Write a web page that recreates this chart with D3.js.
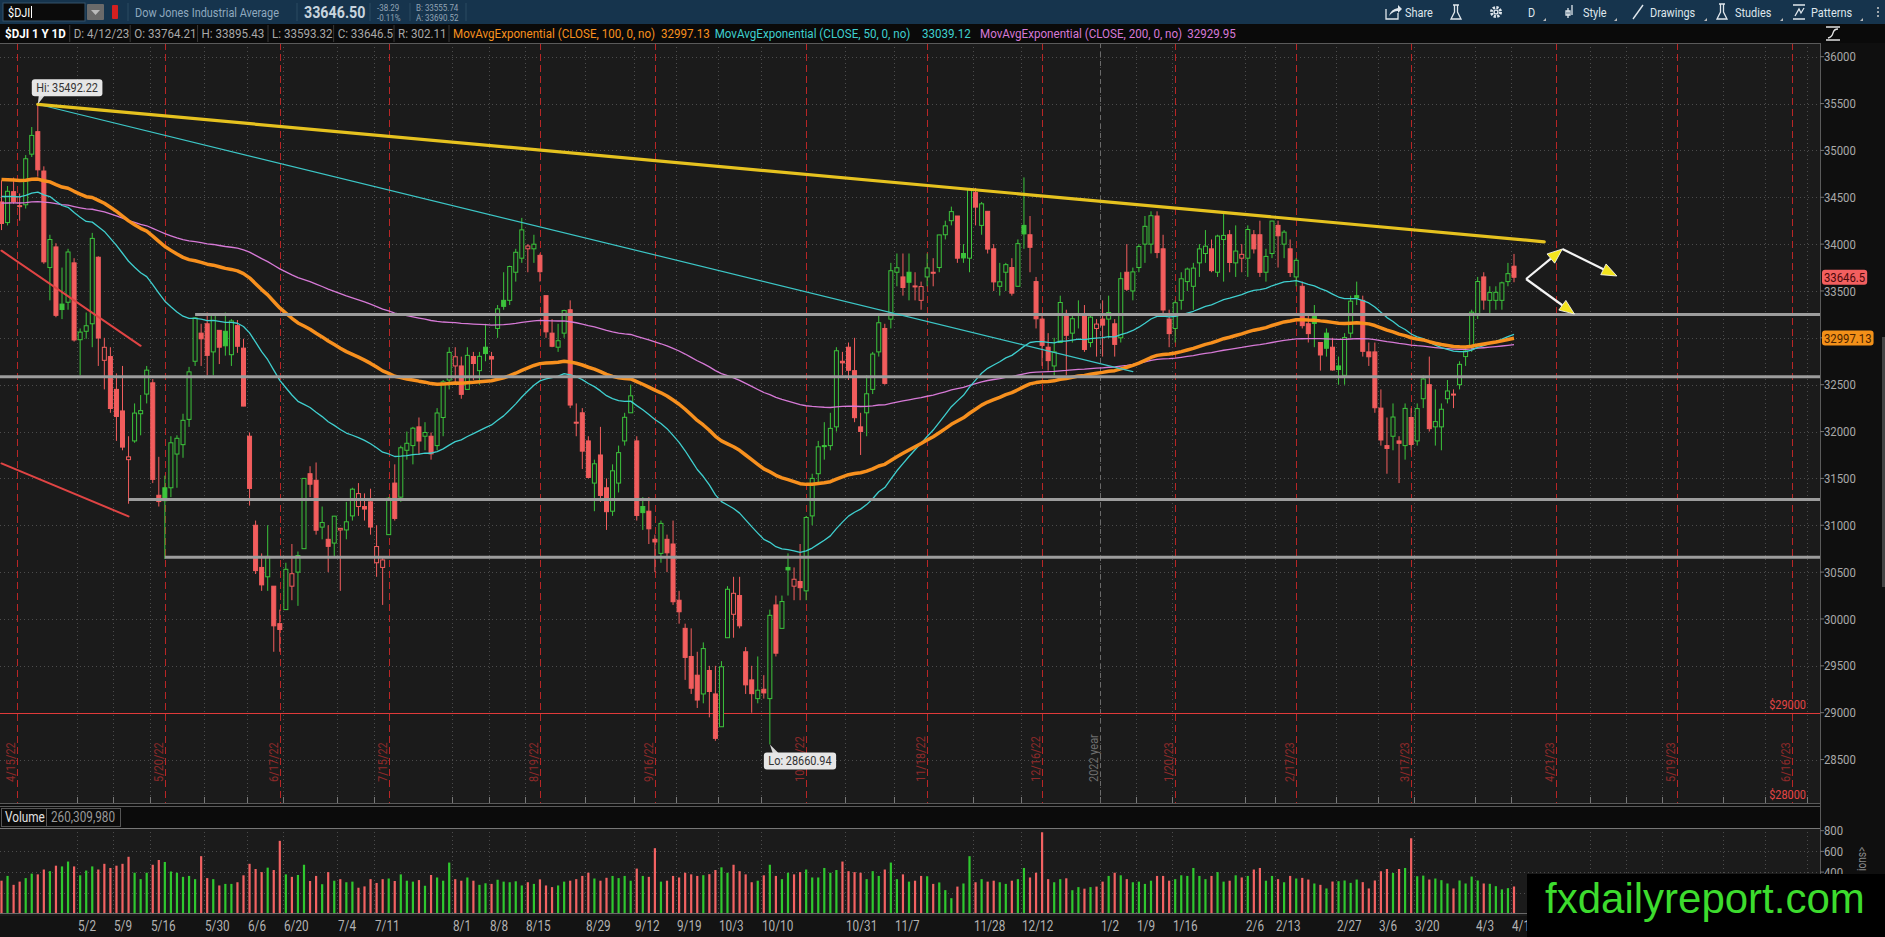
<!DOCTYPE html>
<html lang="en">
<head>
<meta charset="UTF-8" />
<title>$DJI 1 Y 1D</title>
<script src="https://d3js.org/d3.v7.min.js"></script>
<style>
  html, body { margin: 0; padding: 0; background: #000; overflow: hidden; }
  svg { display: block; font-family: Roboto, "Liberation Sans", sans-serif; }
</style>
</head>
<body>
<svg id="chart" width="1885" height="937"></svg>
<script>
// ---- calendar ----
const firstDay = "2022-04-12"
const lastDay = "2023-06-30"
const holidays = ["2022-04-15", "2022-05-30", "2022-06-20", "2022-07-04", "2022-09-05", "2022-11-24",
  "2022-12-26", "2023-01-02", "2023-01-16", "2023-02-20", "2023-04-07", "2023-05-29", "2023-06-19"]

// ---- daily candles, 4/12/22 .. 4/12/23 ----
const opens = [
  34450, 34230, 34560, 34400, 34420, 34960, 35200, 34780, 33750, 33970, 33360, 33380, 33800,
  32980, 33070, 33150, 33860, 32760, 32800, 32450, 32220, 31700, 31900, 32190, 32400, 32520, 31320, 31400, 31400, 31760, 31860, 32130, 32750,
  33050, 33150, 32850, 33080, 33070, 32820, 33130, 32890, 31950, 31000, 30550, 30450, 30350, 29950, 30100, 30350, 30500, 30750, 31550, 31480, 30980, 30850,
  30810, 30950, 30950, 31100, 31200, 31200, 31250, 30600, 30550, 30900, 31450, 31300, 31800, 31850, 32050, 31950, 31950, 31850, 32150, 32550,
  32700, 32700, 32450, 32800, 32650, 32900, 32800, 33100, 33400, 33400, 33700, 33850, 33950, 33950, 33880, 33450, 33050, 32900, 33050, 33300, 32100, 32200, 31900,
  31450, 31750, 31400, 31150, 31450, 31900, 32200, 31900, 31200, 31150, 30850, 30700, 30850, 30800, 30200, 29900, 29600, 29400, 29200, 29450, 29200,
  28850, 29800, 30050, 30250, 29650, 29350, 29150, 29250, 29150, 30150, 29900, 30550, 30350, 30400, 30300, 31100, 31550, 31850, 31850, 32050,
  32750, 32900, 32650, 32050, 32200, 32450, 32850, 33100, 33200, 33700, 33650, 33700, 33550, 33400, 33650, 33700, 33750, 34100, 34250, 34300, 33900, 33850,
  34550, 34200, 34350, 33950, 33550, 33700, 33750, 33550, 34200, 34100, 33600, 33200, 32900, 32700, 32950, 33250, 33050, 33250, 33250, 32950, 33100,
  33200, 33200, 33150, 33000, 33700, 33500, 33750, 34000, 34000, 34300, 33950, 33200, 33100, 33400, 33600, 33550, 33800, 33900, 33950, 33700,
  34050, 34100, 33800, 33850, 33850, 34100, 34100, 33700, 33900, 34200, 34000, 33950, 33650, 33550, 33150, 33250, 32950, 33050, 32900,
  32700, 32600, 33050, 33450, 33400, 32850, 32850, 32250, 31850, 31950, 31900, 31850, 32150, 31900, 32350, 32500, 32050, 32050, 32350, 32400, 32500, 32800, 32900,
  33250, 33650, 33400, 33400, 33400, 33600, 33764.21
]
const highs = [
  34680, 34620, 34710, 34540, 34950, 35250, 35492.22, 34830, 34100, 34010, 33750, 33950, 33850,
  33100, 33270, 34120, 33870, 33000, 32900, 32620, 32700, 31950, 32300, 32390, 32700, 32560, 31730, 31530, 31950, 31960, 32190, 32690, 33220,
  33150, 33270, 33250, 33080, 33270, 33200, 33190, 32990, 31990, 31050, 30700, 31000, 30350, 30100, 30600, 30800, 30720, 31500, 31630, 31670, 31200, 31000,
  31100, 30970, 31250, 31400, 31450, 31340, 31390, 31000, 30650, 31300, 31650, 31850, 32000, 32050, 32150, 32100, 31990, 32250, 32550, 32900,
  32900, 32800, 32900, 32850, 32850, 33150, 32850, 33350, 33700, 33770, 33950, 34280, 34000, 34100, 33900, 33450, 33200, 33150, 33300, 33400, 32300, 32250, 31950,
  31700, 32050, 31500, 31650, 31850, 32200, 32500, 31950, 31300, 31300, 30900, 31050, 30900, 31050, 30300, 29950, 29900, 29650, 29750, 29500, 29500,
  29550, 30350, 30450, 30450, 29700, 29500, 29600, 29400, 30100, 30250, 30250, 30700, 30550, 30800, 31100, 31550, 31900, 32100, 32200, 32900,
  32850, 32950, 33000, 32200, 32600, 32850, 33250, 33150, 33800, 33900, 33900, 33900, 33700, 33600, 33900, 33850, 34100, 34250, 34400, 34300, 34000, 34600,
  34600, 34450, 34350, 34000, 33800, 33800, 33850, 34050, 34712, 34300, 33650, 33250, 33050, 33000, 33450, 33300, 33250, 33400, 33350, 33250, 33200,
  33400, 33450, 33200, 33700, 34000, 33750, 34000, 34300, 34350, 34350, 34100, 33300, 33400, 33700, 33750, 33800, 34000, 34150, 34050, 34100,
  34350, 34150, 34200, 34000, 34200, 34150, 34250, 33950, 34250, 34250, 34150, 34050, 33850, 33600, 33250, 33350, 32950, 33100, 33000,
  32800, 33050, 33450, 33600, 33450, 32950, 32950, 32450, 32150, 32300, 31950, 32300, 32250, 32300, 32600, 32800, 32450, 32300, 32550, 32450, 32750, 32900, 33300,
  33650, 33700, 33550, 33550, 33600, 33800, 33895.43
]
const lows = [
  34150, 34200, 34430, 34250, 34380, 34930, 34720, 33790, 33400, 33220, 33200, 33300, 32960,
  32600, 32990, 32900, 32700, 32450, 32200, 31900, 31800, 31230, 31880, 31960, 32300, 31450, 31200, 30640, 31300, 31400, 31720, 32050, 32700,
  32700, 32600, 32600, 32720, 32810, 32700, 32840, 32270, 31210, 30480, 30300, 30300, 29650, 29650, 30100, 30200, 30140, 30750, 31300, 30900, 30850, 30500,
  30650, 30300, 30850, 31050, 31100, 31050, 30900, 30450, 30150, 30900, 31050, 31250, 31700, 31650, 31750, 31800, 31700, 31800, 31950, 32450,
  32500, 32350, 32450, 32550, 32500, 32750, 32600, 33000, 33300, 33350, 33600, 33800, 33700, 33800, 33600, 33000, 32900, 32850, 33000, 32250, 31950, 31600, 31500,
  31150, 31250, 30950, 31100, 31350, 31850, 32200, 31050, 30950, 30800, 30500, 30600, 30500, 30150, 29950, 29350, 29200, 29050, 29100, 28950, 28700,
  28850, 29800, 29800, 29900, 29200, 29000, 29100, 29150, 28660.94, 29600, 29900, 30250, 30200, 30200, 30200, 31000, 31450, 31700, 31800, 32000,
  32600, 32550, 32100, 31750, 31950, 32400, 32800, 32500, 33100, 33550, 33450, 33400, 33400, 33300, 33550, 33550, 33700, 34050, 34200, 33800, 33800, 33700,
  34200, 34100, 33900, 33500, 33450, 33500, 33450, 33550, 33950, 33700, 33100, 32700, 32650, 32600, 32950, 32600, 32950, 33100, 32850, 32900, 32800,
  32800, 33000, 32800, 32950, 33500, 33400, 33700, 33800, 33900, 33850, 33250, 32900, 32950, 33300, 33500, 33300, 33650, 33800, 33700, 33650,
  33600, 33700, 33650, 33700, 33650, 33900, 33650, 33600, 33850, 33750, 33850, 33650, 33550, 33100, 32950, 32900, 32650, 32800, 32650,
  32500, 32500, 33000, 33350, 32800, 32700, 32200, 31850, 31550, 31800, 31450, 31700, 31800, 31850, 32250, 32000, 31850, 31800, 32300, 32250, 32450, 32700, 32850,
  33200, 33300, 33250, 33300, 33300, 33550, 33593.32
]
const closes = [
  34220, 34564, 34451, 34411, 34911, 35160, 34793, 33811, 34049, 33240, 33302, 33916, 32977,
  33061, 33129, 34061, 32998, 32899, 32246, 32161, 31834, 31730, 32197, 32223, 32655, 31490, 31253, 31262, 31880, 31928, 32120, 32637, 33213,
  32990, 32813, 33248, 32900, 32915, 33180, 32910, 32272, 31393, 30516, 30364, 30668, 29927, 29888, 30530, 30483, 30677, 31500, 31438, 30947, 31029, 30775,
  31097, 30967, 31037, 31385, 31338, 31173, 30981, 30773, 30630, 31288, 31073, 31827, 31875, 32036, 31899, 31990, 31762, 32198, 32530, 32845,
  32798, 32397, 32813, 32726, 32803, 32832, 32774, 33309, 33336, 33761, 33913, 34152, 33980, 33999, 33706, 33064, 32910, 32969, 33291, 32283, 32099, 31791, 31510,
  31656, 31318, 31145, 31581, 31775, 32152, 32381, 31105, 31135, 30962, 30822, 31020, 30706, 30184, 30077, 29590, 29261, 29135, 29684, 29226, 28726,
  29490, 30317, 30274, 29927, 29297, 29203, 29240, 29211, 30039, 29635, 30186, 30524, 30424, 30334, 31083, 31500, 31837, 31839, 32034, 32862,
  32733, 32654, 32148, 32001, 32403, 32827, 33161, 32514, 33716, 33748, 33537, 33593, 33554, 33547, 33746, 33700, 34098, 34195, 34347, 33850, 33853, 34590,
  34395, 34430, 33947, 33597, 33598, 33781, 33477, 34005, 34109, 33966, 33203, 32920, 32757, 32850, 33377, 33027, 33204, 33241, 32876, 33221, 33147,
  33136, 33270, 32930, 33631, 33518, 33704, 33974, 34190, 34303, 33910, 33297, 33045, 33375, 33630, 33734, 33744, 33949, 33978, 33717, 34086,
  34093, 33804, 33926, 33891, 34156, 33949, 33699, 33869, 34246, 34089, 34128, 33697, 33827, 33130, 33045, 33154, 32817, 32889, 32657,
  32662, 33004, 33391, 33431, 32856, 32798, 32254, 31910, 31820, 32155, 31875, 32247, 31862, 32245, 32561, 32031, 32106, 32238, 32433, 32394, 32717, 32860, 33274,
  33601, 33403, 33483, 33486, 33587, 33685, 33646.5
]
// volume, millions
const volumes = [
  317, 363, 277, 308, 342, 385, 378, 425, 409, 462, 455, 502, 455,
  369, 415, 455, 425, 480, 440, 462, 480, 548, 394, 332, 394, 471, 517, 498, 406, 394, 354, 363, 332,
  554, 342, 332, 271, 286, 286, 302, 369, 480, 430, 400, 443, 420, 702, 378, 354, 372, 471, 314, 363, 283, 400,
  317, 332, 302, 308, 249, 262, 332, 295, 332, 338, 314, 378, 317, 308, 323, 268, 372, 348, 317, 492,
  332, 317, 348, 317, 277, 292, 286, 326, 308, 302, 311, 271, 302, 286, 330, 271, 255, 271, 308, 317, 332, 363, 394,
  338, 317, 345, 363, 342, 363, 317, 434, 363, 354, 631, 308, 317, 363, 348, 394, 378, 363, 370, 380, 420,
  446, 394, 471, 409, 378, 302, 317, 369, 471, 363, 332, 394, 378, 400, 425, 348, 348, 440, 394, 420,
  502, 409, 400, 394, 332, 409, 363, 425, 492, 332, 378, 308, 317, 363, 360, 286, 300, 226, 148, 260, 290, 554,
  302, 332, 308, 317, 302, 286, 317, 332, 440, 348, 394, 785, 332, 302, 332, 340, 225, 255, 240, 255, 260,
  308, 363, 394, 369, 332, 302, 308, 286, 317, 363, 363, 317, 332, 369, 363, 440, 363, 332, 363, 400,
  308, 317, 369, 348, 363, 425, 440, 317, 363, 332, 302, 363, 338, 344, 328, 290, 277, 242, 309,
  312, 319, 296, 328, 303, 242, 319, 408, 430, 392, 430, 440, 727, 360, 366, 328, 338, 322, 290, 242, 319, 290, 357,
  319, 290, 287, 264, 233, 245, 261
]

// ---- studies ----
const emaPeriods = [100, 50, 200]
const emaSeeds = [34700, 34520, 34440]
const emaColors = ["#f7901e", "#3fcfcf", "#d679d6"]
const emaWidths = [3.5, 1.3, 1.3]
const emaLastText = ["32997.13", "33039.12", "32929.95"]

// ---- axes ----
const priceTicks = d3.range(28500, 36001, 500)
const volumeTicks = [800, 600, 400]
const tickLabels = ["5/2", "5/9", "5/16", "5/30", "6/6", "6/20", "7/4", "7/11", "8/1", "8/8", "8/15", "8/29", "9/12", "9/19",
  "10/3", "10/10", "10/31", "11/7", "11/28", "12/12", "1/2", "1/9", "1/16", "2/6", "2/13", "2/27", "3/6", "3/20", "4/3", "4/10"]
// bar on which the platform put each weekly mark (mark sits at the bar's left edge)
const tickAtDates = ["2022-05-02", "2022-05-10", "2022-05-18", "2022-06-01", "2022-06-10", "2022-06-21", "2022-07-05", "2022-07-13",
  "2022-08-01", "2022-08-09", "2022-08-17", "2022-08-31", "2022-09-13", "2022-09-22", "2022-10-03", "2022-10-12", "2022-11-01",
  "2022-11-11", "2022-12-01", "2022-12-13", "2023-01-03", "2023-01-11", "2023-01-20", "2023-02-07", "2023-02-14", "2023-03-01",
  "2023-03-10", "2023-03-20", "2023-04-03", "2023-04-12"]
const futureGridDates = ["2023-05-01", "2023-05-09", "2023-05-17", "2023-06-01", "2023-06-12", "2023-06-22"]
const expiryDates = ["2022-04-15", "2022-05-20", "2022-06-17", "2022-07-15", "2022-08-19", "2022-09-16", "2022-10-21",
  "2022-11-18", "2022-12-16", "2023-01-20", "2023-02-17", "2023-03-17", "2023-04-21", "2023-05-19", "2023-06-16"]
const expiryLabels = ["4/15/22", "5/20/22", "6/17/22", "7/15/22", "8/19/22", "9/16/22", "10/21/22",
  "11/18/22", "12/16/22", "1/20/23", "2/17/23", "3/17/23", "4/21/23", "5/19/23", "6/16/23"]
const yearDate = "2023-01-02"

// ---- drawings ----
const levelValues = [33250, 32585, 31276, 30658]
const levelStarts = ["2022-05-27", null, "2022-05-12", "2022-05-20"]
const priceLines = [29000, 28000]
const trendYellow = [["2022-04-21", 35492.22], ["2023-04-19", 34025]]
const trendCyan = [["2022-04-21", 35492.22], ["2023-01-10", 32640]]
const trendRed1 = [["2022-04-12", 33930], ["2022-05-16", 32915]]
const trendRed2 = [["2022-04-12", 31660], ["2022-05-12", 31095]]
const arrowLegs = [
  [["2023-04-14", 33628], ["2023-04-24", 33948]],
  [["2023-04-24", 33948], ["2023-05-05", 33660]],
  [["2023-04-14", 33628], ["2023-04-26", 33254]]
]

// ---- build trading calendar ----
const tradingDays = []
for (let d = new Date(firstDay + "T12:00:00Z"); d <= new Date(lastDay + "T12:00:00Z"); d.setUTCDate(d.getUTCDate() + 1)) {
  const iso = d.toISOString().slice(0, 10)
  const wd = d.getUTCDay()
  if (wd !== 0 && wd !== 6 && !holidays.includes(iso)) tradingDays.push(iso)
}
const n = closes.length
if ([opens, highs, lows, volumes].some(a => a.length !== n)) {
  throw new Error("length mismatch " + [opens.length, highs.length, lows.length, closes.length, volumes.length])
}
// first trading day on/after a date
const tickIndex = iso => tradingDays.findIndex(t => t >= iso)
// bar position of a date, half way between bars if market closed
const dayPos = iso => { const i = tickIndex(iso); return tradingDays[i] === iso ? i : i - 0.5 }

const candles = d3.range(n).map(i => ({
  i, o: opens[i], h: highs[i], l: lows[i], c: closes[i], v: volumes[i],
  up: i === 0 ? closes[i] >= opens[i] : closes[i] >= closes[i - 1]
}))

function ema(values, period, seed) {
  const k = 2 / (period + 1)
  let prev = seed
  return values.map(v => (prev = prev + k * (v - prev)))
}

// ---- layout ----
const W = 1885, H = 937
const plotRight = 1820
const priceTop = 43, priceBottom = 803
const volTop = 828, volBottom = 916
const paneBg = "#1b1b1b"
const green = "#3cc43c", red = "#f25d5d"
const gridColor = "#4c4c4c"
const axisText = "#a9a9a9"
const SX = 0.84   // narrow the font like the platform's condensed face

const x = d3.scaleLinear().domain([0, 300]).range([1.5, 1.5 + 6.05 * 300])
const y = d3.scaleLinear().domain([28000, 36000]).range([806.4, 56.7])
const yv = d3.scaleLinear().domain([0, 800]).range([913.5, 830.7])

const svg = d3.select("#chart")
const at = (px, py, rot, sx = SX) => `translate(${px},${py})${rot ? ` rotate(${rot})` : ""} scale(${sx},1)`
function txt(g, px, py, s, size, fill, sx = SX) {
  return g.append("text").attr("transform", at(px, py, 0, sx)).attr("font-size", size).attr("fill", fill).text(s)
}
const textW = (t, sx = SX) => t.node().getComputedTextLength() * sx

const defs = svg.append("defs")
defs.append("clipPath").attr("id", "priceClip").append("rect")
  .attr("x", 0).attr("y", priceTop).attr("width", plotRight).attr("height", priceBottom - priceTop)
defs.append("clipPath").attr("id", "volClip").append("rect")
  .attr("x", 0).attr("y", volTop).attr("width", plotRight).attr("height", volBottom - volTop)

// backgrounds
svg.append("rect").attr("width", W).attr("height", H).attr("fill", "#0e0e0e")
svg.append("rect").attr("width", W).attr("height", 24).attr("fill", "#16344d")
svg.append("rect").attr("y", 24).attr("width", W).attr("height", 19).attr("fill", "#0a0a0a")
svg.append("rect").attr("y", priceTop).attr("width", plotRight).attr("height", priceBottom - priceTop).attr("fill", paneBg)
svg.append("rect").attr("y", 806).attr("width", plotRight).attr("height", volTop - 806).attr("fill", "#0b0b0b")
svg.append("rect").attr("y", volTop).attr("width", plotRight).attr("height", volBottom - volTop).attr("fill", paneBg)
svg.append("rect").attr("y", volBottom).attr("width", W).attr("height", H - volBottom).attr("fill", "#131313")
svg.append("rect").attr("x", plotRight + 1).attr("y", priceTop).attr("width", W - plotRight).attr("height", volBottom - priceTop).attr("fill", "#0f0f0f")
svg.append("rect").attr("x", 1882).attr("y", 337).attr("width", 3).attr("height", 250).attr("fill", "#444")

// ---- header row 1 ----
const top1 = svg.append("g")
top1.append("rect").attr("x", 3).attr("y", 3).attr("width", 82).attr("height", 18).attr("fill", "#0b0b0b").attr("stroke", "#34526a")
txt(top1, 8, 16.5, "$DJI", 13, "#fff")
top1.append("rect").attr("x", 31).attr("y", 6).attr("width", 1).attr("height", 12).attr("fill", "#fff")
top1.append("rect").attr("x", 87).attr("y", 4).attr("width", 17).attr("height", 16).attr("fill", "#6a6a6a").attr("rx", 1)
top1.append("path").attr("d", "M91,10 L100,10 L95.5,15 Z").attr("fill", "#bbb")
top1.append("rect").attr("x", 112).attr("y", 5).attr("width", 6).attr("height", 14).attr("fill", "#d42020").attr("rx", 1)
txt(top1, 135, 16.5, "Dow Jones Industrial Average", 13, "#8fa9bf")
txt(top1, 304, 18, "33646.50", 17, "#c8d4de").attr("font-weight", "bold")
txt(top1, 377, 10.5, "-38.29", 9.5, "#93a4b5")
txt(top1, 377, 21, "-0.11%", 9.5, "#93a4b5")
txt(top1, 416, 10.5, "B: 33555.74", 9.5, "#93a4b5")
txt(top1, 416, 21, "A: 33690.52", 9.5, "#93a4b5")
;[128, 297, 370, 410, 466].forEach(sx => top1.append("line").attr("x1", sx).attr("x2", sx).attr("y1", 3).attr("y2", 21).attr("stroke", "#2a4a63"))

const tb = "#dfe6ec"
// share
top1.append("path").attr("d", "M1386,9 L1386,19 L1398,19 L1398,13").attr("fill", "none").attr("stroke", tb).attr("stroke-width", 1.3)
top1.append("path").attr("d", "M1389,16 Q1391,9 1398,8 L1398,5 L1402,9 L1398,13 L1398,11 Q1393,11 1389,16 Z").attr("fill", tb)
txt(top1, 1405, 16.5, "Share", 13, tb)
// flask
top1.append("path").attr("d", "M1453,5 L1459,5 M1454.5,5 L1454.5,12 L1451,19 L1461,19 L1457.5,12 L1457.5,5").attr("fill", "none").attr("stroke", tb).attr("stroke-width", 1.3)
// gear
top1.append("circle").attr("cx", 1496).attr("cy", 12).attr("r", 4.5).attr("fill", "none").attr("stroke", tb).attr("stroke-width", 3).attr("stroke-dasharray", "2.2,1.3")
top1.append("circle").attr("cx", 1496).attr("cy", 12).attr("r", 2.6).attr("fill", tb)
top1.append("circle").attr("cx", 1496).attr("cy", 12).attr("r", 1.2).attr("fill", "#16344d")
txt(top1, 1528, 16.5, "D", 13, tb)
// style
top1.append("path").attr("d", "M1568,8 L1568,18 M1572,5 L1572,15 M1566,11 L1570,11 L1570,15 L1566,15 Z").attr("fill", "none").attr("stroke", tb).attr("stroke-width", 1.3)
txt(top1, 1583, 16.5, "Style", 13, tb)
// drawings
top1.append("line").attr("x1", 1633).attr("y1", 19).attr("x2", 1643).attr("y2", 5).attr("stroke", tb).attr("stroke-width", 1.4)
txt(top1, 1650, 16.5, "Drawings", 13, tb)
// studies
top1.append("path").attr("d", "M1719,4 L1725,4 M1720.5,4 L1720.5,12 L1717,19 L1727,19 L1723.5,12 L1723.5,4").attr("fill", "none").attr("stroke", tb).attr("stroke-width", 1.3)
txt(top1, 1735, 16.5, "Studies", 13, tb)
// patterns
top1.append("path").attr("d", "M1793,5 L1805,5 M1793,19 L1805,19 M1795,16 L1799,9 L1801,13 L1804,8").attr("fill", "none").attr("stroke", tb).attr("stroke-width", 1.3)
txt(top1, 1811, 16.5, "Patterns", 13, tb)
;[1543, 1614, 1704, 1780, 1860].forEach(tx => top1.append("path").attr("d", `M${tx},21 L${tx + 3},18 L${tx + 3},21 Z`).attr("fill", "#bbb"))
;[8, 12, 16].forEach(dy => top1.append("circle").attr("cx", 1878).attr("cy", dy).attr("r", 1).attr("fill", "#ccc"))

// ---- header row 2 (study legend) ----
const top2 = svg.append("g")
const sx2 = 0.86
const legendFields = [
  [3, "$DJI 1 Y 1D", "#fff"],
  [70, "D: 4/12/23", "#a8a8a8"], [134, "O: 33764.21", "#a8a8a8"], [198, "H: 33895.43", "#a8a8a8"],
  [272, "L: 33593.32", "#a8a8a8"], [335, "C: 33646.5", "#a8a8a8"], [398, "R: 302.11", "#a8a8a8"],
  [453, "MovAvgExponential (CLOSE, 100, 0, no)", emaColors[0]], [661, emaLastText[0], emaColors[0]],
  [713, "MovAvgExponential (CLOSE, 50, 0, no)", emaColors[1]], [922, emaLastText[1], emaColors[1]],
  [980, "MovAvgExponential (CLOSE, 200, 0, no)", emaColors[2]], [1187, emaLastText[2], emaColors[2]]
]
let legendEnd = 0
legendFields.forEach(([fx, t, c], k) => {
  const px = Math.max(fx, legendEnd + (k === 1 ? 8 : 5))
  const el = txt(top2, px, 37.5, t, 13.5, c, sx2)
  if (k === 0) el.attr("font-weight", "bold")
  if (k >= 1 && k <= 7) top2.append("line").attr("x1", px - 4).attr("x2", px - 4).attr("y1", 25).attr("y2", 42).attr("stroke", "#383838")
  legendEnd = px + textW(el, sx2)
})
top2.append("path").attr("d", "M1826,27 L1840,27 M1826,40 L1840,40 M1828,38 Q1832,37 1833,33 Q1834,29 1838,29").attr("fill", "none").attr("stroke", "#e0e0e0").attr("stroke-width", 1.3)

// ---- grid ----
const tickIdx = tickAtDates.map(tickIndex)
const gridIdx = tickIdx.concat(futureGridDates.map(tickIndex))
const gx = d => Math.round(x(d - 0.5)) + 0.5
const grid = svg.append("g")
grid.selectAll("line.hg").data(priceTicks).join("line")
  .attr("x1", 0).attr("x2", plotRight).attr("y1", d => Math.round(y(d)) + 0.5).attr("y2", d => Math.round(y(d)) + 0.5)
  .attr("stroke", gridColor).attr("stroke-dasharray", "1,3")
grid.selectAll("line.vg").data(gridIdx).join("line")
  .attr("x1", gx).attr("x2", gx).attr("y1", priceTop).attr("y2", priceBottom)
  .attr("stroke", gridColor).attr("stroke-dasharray", "1,3")
grid.selectAll("line.vg2").data(gridIdx).join("line")
  .attr("x1", gx).attr("x2", gx).attr("y1", volTop).attr("y2", volBottom - 3)
  .attr("stroke", gridColor).attr("stroke-dasharray", "1,3")
grid.selectAll("line.hv").data(volumeTicks.slice(1).concat([200])).join("line")
  .attr("x1", 0).attr("x2", plotRight).attr("y1", d => Math.round(yv(d)) + 0.5).attr("y2", d => Math.round(yv(d)) + 0.5)
  .attr("stroke", gridColor).attr("stroke-dasharray", "1,3")
grid.selectAll("line.tk").data(gridIdx).join("line")
  .attr("x1", gx).attr("x2", gx).attr("y1", priceBottom - 6).attr("y2", priceBottom).attr("stroke", "#777")

// ---- price pane ----
const pane = svg.append("g").attr("clip-path", "url(#priceClip)")
const ex = d => Math.round(x(dayPos(d))) + 0.5

// expiration lines
pane.selectAll("line.exp").data(expiryDates).join("line")
  .attr("x1", ex).attr("x2", ex)
  .attr("y1", priceTop).attr("y2", priceBottom)
  .attr("stroke", "#b82626").attr("stroke-dasharray", "7,4")
pane.selectAll("text.exp").data(expiryDates).join("text")
  .attr("transform", d => at(ex(d) - 2.5, 782, -90))
  .attr("fill", "#8e2a2a").attr("font-size", 13)
  .text((d, i) => expiryLabels[i])
const yearX = ex(yearDate)
pane.append("line").attr("x1", yearX).attr("x2", yearX).attr("y1", priceTop).attr("y2", priceBottom)
  .attr("stroke", "#6a6a6a").attr("stroke-dasharray", "5,4")
pane.append("text").attr("transform", at(yearX - 2.5, 782, -90))
  .attr("fill", "#6f6f6f").attr("font-size", 13).text("2022 year")

// fixed price lines
pane.selectAll("line.pl").data(priceLines).join("line")
  .attr("x1", 0).attr("x2", plotRight).attr("y1", d => Math.round(y(d)) + 0.5).attr("y2", d => Math.round(y(d)) + 0.5)
  .attr("stroke", "#e03a3a").attr("stroke-width", 1)
svg.selectAll("text.pl").data(priceLines).join("text")
  .attr("transform", d => at(1806, Math.min(y(d), priceBottom) - 4))
  .attr("text-anchor", "end").attr("fill", "#e24545").attr("font-size", 13)
  .text(d => "$" + d)

// candles
const bodyW = 4
pane.selectAll("line.wick").data(candles).join("line")
  .attr("x1", d => x(d.i)).attr("x2", d => x(d.i))
  .attr("y1", d => y(d.h)).attr("y2", d => y(d.l))
  .attr("stroke", d => d.up ? green : red).attr("stroke-width", 1)
pane.selectAll("rect.body").data(candles).join("rect")
  .attr("x", d => x(d.i) - bodyW / 2)
  .attr("y", d => y(Math.max(d.o, d.c)))
  .attr("width", bodyW)
  .attr("height", d => Math.max(1, y(Math.min(d.o, d.c)) - y(Math.max(d.o, d.c))))
  .attr("fill", d => d.c > d.o ? paneBg : (d.up ? green : red))
  .attr("stroke", d => d.up ? green : red).attr("stroke-width", 1)

// moving averages
const emaSeries = emaPeriods.map((p, k) => ema(closes, p, emaSeeds[k]))
const emaLine = d3.line().x((d, i) => x(i)).y(d => y(d))
;[2, 1, 0].forEach(k => {
  pane.append("path").datum(emaSeries[k])
    .attr("fill", "none").attr("stroke", emaColors[k]).attr("stroke-width", emaWidths[k])
    .attr("stroke-linejoin", "round").attr("d", emaLine)
})

// horizontal levels
pane.selectAll("line.lvl").data(levelValues).join("line")
  .attr("x1", (d, i) => levelStarts[i] ? x(dayPos(levelStarts[i])) : 0)
  .attr("x2", plotRight)
  .attr("y1", d => y(d)).attr("y2", d => y(d))
  .attr("stroke", "#9d9d9d").attr("stroke-width", 3)

// trendlines
const pt = ([d, v]) => [x(dayPos(d)), y(v)]
function seg(p, color, width) {
  const a = pt(p[0]), b = pt(p[1])
  pane.append("line").attr("x1", a[0]).attr("y1", a[1]).attr("x2", b[0]).attr("y2", b[1])
    .attr("stroke", color).attr("stroke-width", width).attr("stroke-linecap", "round")
}
seg(trendCyan, "#3cc6c6", 1.2)
seg(trendYellow, "#e6c21f", 3.2)
seg(trendRed1, "#e04444", 2)
seg(trendRed2, "#e04444", 2)

// arrows
arrowLegs.forEach(leg => {
  const a = pt(leg[0]), b = pt(leg[1])
  const dx = b[0] - a[0], dy = b[1] - a[1], len = Math.hypot(dx, dy)
  const ux = dx / len, uy = dy / len, hl = 15, hw = 6
  const bx = b[0] - ux * hl, by = b[1] - uy * hl
  pane.append("line").attr("x1", a[0]).attr("y1", a[1]).attr("x2", bx).attr("y2", by)
    .attr("stroke", "#f4f4f4").attr("stroke-width", 2.2)
  pane.append("path")
    .attr("d", `M${b[0]},${b[1]} L${bx - uy * hw},${by + ux * hw} L${bx + uy * hw},${by - ux * hw} Z`)
    .attr("fill", "#f3e41e").attr("stroke", "#fff").attr("stroke-width", 0.8)
})

// Hi / Lo callouts
function callout(px, py, boxY, s, tipDx) {
  pane.append("path").attr("d", `M${px},${py} L${px + tipDx},${boxY + (boxY < py ? 16 : 1)} L${px + tipDx + 6},${boxY + (boxY < py ? 16 : 1)} Z`).attr("fill", "#d8d8d8")
  const r = pane.append("rect").attr("x", px - 6).attr("y", boxY).attr("height", 17).attr("rx", 3).attr("fill", "#e6e6e6")
  const t = txt(pane, px - 1.5, boxY + 12.5, s, 13, "#333")
  r.attr("width", textW(t) + 9)
}
const hiI = d3.maxIndex(highs), loI = d3.minIndex(lows)
callout(x(hiI), y(highs[hiI]), y(highs[hiI]) - 25, "Hi: " + highs[hiI].toFixed(2), 1)
callout(x(loI), y(lows[loI]), y(lows[loI]) + 8, "Lo: " + lows[loI].toFixed(2), 3)

// ---- volume pane ----
const vol = svg.append("g").attr("clip-path", "url(#volClip)")
vol.selectAll("rect.v").data(candles).join("rect")
  .attr("x", d => x(d.i) - 1.1).attr("width", 2.2)
  .attr("y", d => yv(d.v)).attr("height", d => yv(0) - yv(d.v))
  .attr("fill", d => d.up ? "#2fc82f" : "#f26262")

// ---- pane borders ----
const borders = svg.append("g").attr("stroke", "#5a5a5a")
borders.append("line").attr("x1", 0).attr("x2", plotRight).attr("y1", priceTop + 0.5).attr("y2", priceTop + 0.5)
borders.append("line").attr("x1", 0).attr("x2", plotRight).attr("y1", priceBottom + 0.5).attr("y2", priceBottom + 0.5)
borders.append("line").attr("x1", 0).attr("x2", plotRight).attr("y1", 806.5).attr("y2", 806.5)
borders.append("line").attr("x1", 0).attr("x2", plotRight).attr("y1", volTop + 0.5).attr("y2", volTop + 0.5).attr("stroke", "#777")
borders.append("line").attr("x1", 0).attr("x2", plotRight).attr("y1", 913.5).attr("y2", 913.5).attr("stroke", "#6a6a6a")
borders.append("line").attr("x1", plotRight + 0.5).attr("x2", plotRight + 0.5).attr("y1", priceTop).attr("y2", volBottom)

// volume header
svg.append("rect").attr("x", 1.5).attr("y", 808.5).attr("width", 45).attr("height", 18).attr("fill", "none").attr("stroke", "#555")
svg.append("rect").attr("x", 46.5).attr("y", 808.5).attr("width", 74).attr("height", 18).attr("fill", "none").attr("stroke", "#555")
txt(svg, 5, 822, "Volume", 14, "#e0e0e0")
txt(svg, 51, 822, d3.format(",")(260309980), 14, "#9a9a9a")

// ---- right axis ----
const badges = [[closes[n - 1], String(closes[n - 1]), "#f25f5f", "#4a0808"],
  [+emaLastText[0], emaLastText[0], "#f39019", "#4a2200"]]
const axis = svg.append("g")
const freeTicks = priceTicks.filter(v => badges.every(b => Math.abs(y(v) - y(b[0])) > 12))
axis.selectAll("line.pt").data(priceTicks).join("line")
  .attr("x1", plotRight).attr("x2", plotRight + 4).attr("y1", d => y(d)).attr("y2", d => y(d)).attr("stroke", "#777")
axis.selectAll("text.pt").data(freeTicks).join("text")
  .attr("transform", d => at(plotRight + 4, y(d) + 4.6))
  .attr("font-size", 13.5).attr("fill", axisText).text(d => d)
axis.selectAll("line.vt").data(volumeTicks).join("line")
  .attr("x1", plotRight).attr("x2", plotRight + 4).attr("y1", d => yv(d)).attr("y2", d => yv(d)).attr("stroke", "#777")
axis.selectAll("text.vt").data(volumeTicks).join("text")
  .attr("transform", d => at(plotRight + 4, yv(d) + 4.6))
  .attr("font-size", 13.5).attr("fill", axisText).text(d => d)

// last price & EMA100 badges
badges.forEach(([v, s, bg, fg]) => {
  const r = axis.append("rect").attr("x", plotRight + 2).attr("y", y(v) - 7.5).attr("height", 15).attr("rx", 3).attr("fill", bg)
  const t = txt(axis, plotRight + 4, y(v) + 4.6, s, 13.5, fg)
  r.attr("width", textW(t) + 4)
})

txt(svg, 0, 0, "ions>", 12, "#8a8a8a").attr("transform", at(1866, 871, -90))

// ---- time axis ----
svg.append("g").selectAll("text").data(tickIdx).join("text")
  .attr("transform", d => at(gx(d) + 0.5, 931))
  .attr("fill", "#b2b2b2").attr("font-size", 14)
  .text((d, i) => tickLabels[i])

// ---- watermark ----
svg.append("rect").attr("x", 1527).attr("y", 874).attr("width", W - 1527).attr("height", H - 874).attr("fill", "#000")
svg.append("text").attr("x", 1545).attr("y", 913)
  .attr("font-family", "'Liberation Sans', Arial, sans-serif").attr("font-size", 42)
  .attr("fill", "#3ddc2e").text("fxdailyreport.com")
</script>
</body>
</html>
